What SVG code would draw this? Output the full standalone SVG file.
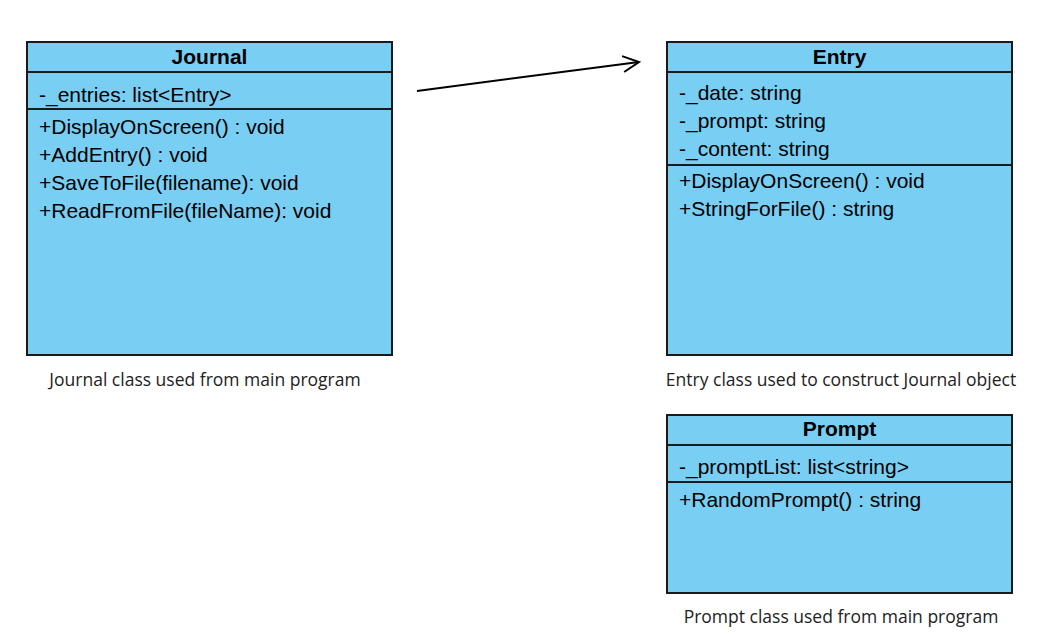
<svg xmlns="http://www.w3.org/2000/svg" width="1037" height="638" viewBox="0 0 1037 638">
<defs>
<style>
.box{fill:#79cef4;stroke:#1a1a1a;stroke-width:2}
.div{stroke:#1a1a1a;stroke-width:2}
.t{font-family:"Liberation Sans",Arial,sans-serif;font-size:21px;fill:#000}
.h{font-family:"Liberation Sans",Arial,sans-serif;font-size:21px;font-weight:bold;fill:#000;text-anchor:middle}
.cap{font-family:"Open Sans","Noto Sans",sans-serif;font-size:17.5px;fill:#222;text-anchor:middle}
.conn{stroke:#000;stroke-width:2;fill:none}
</style>
<marker id="open" markerWidth="20" markerHeight="20" refX="17" refY="10" orient="auto" markerUnits="userSpaceOnUse">
<path d="M1,2 L17,10 L1,18" fill="none" stroke="#000" stroke-width="2"/>
</marker>
</defs>
<rect width="1037" height="638" fill="#fff"/>
<g id="journal">
<rect class="box" x="27" y="42" width="365" height="313"/>
<line class="div" x1="27" y1="72" x2="392" y2="72"/>
<line class="div" x1="27" y1="109" x2="392" y2="109"/>
<text class="h" x="209.5" y="64">Journal</text>
<text class="t" x="39" y="102">-_entries: list&lt;Entry&gt;</text>
<text class="t" x="39" y="134">+DisplayOnScreen() : void</text>
<text class="t" x="39" y="162">+AddEntry() : void</text>
<text class="t" x="39" y="190">+SaveToFile(filename): void</text>
<text class="t" x="39" y="218">+ReadFromFile(fileName): void</text>
<text class="cap" x="205" y="386">Journal class used from main program</text>
</g>
<g id="entry">
<rect class="box" x="667" y="42" width="345" height="313"/>
<line class="div" x1="667" y1="72" x2="1012" y2="72"/>
<line class="div" x1="667" y1="165" x2="1012" y2="165"/>
<text class="h" x="839.5" y="64">Entry</text>
<text class="t" x="679" y="100">-_date: string</text>
<text class="t" x="679" y="128">-_prompt: string</text>
<text class="t" x="679" y="156">-_content: string</text>
<text class="t" x="679" y="188">+DisplayOnScreen() : void</text>
<text class="t" x="679" y="216">+StringForFile() : string</text>
<text class="cap" x="841" y="386">Entry class used to construct Journal object</text>
</g>
<g id="prompt">
<rect class="box" x="667" y="415" width="345" height="178"/>
<line class="div" x1="667" y1="445" x2="1012" y2="445"/>
<line class="div" x1="667" y1="482" x2="1012" y2="482"/>
<text class="h" x="839.5" y="436">Prompt</text>
<text class="t" x="679" y="474">-_promptList: list&lt;string&gt;</text>
<text class="t" x="679" y="507">+RandomPrompt() : string</text>
<text class="cap" x="841" y="623">Prompt class used from main program</text>
</g>
<g id="connectors">
<line class="conn" x1="417" y1="91" x2="639" y2="62" marker-end="url(#open)"/>
</g>
</svg>
